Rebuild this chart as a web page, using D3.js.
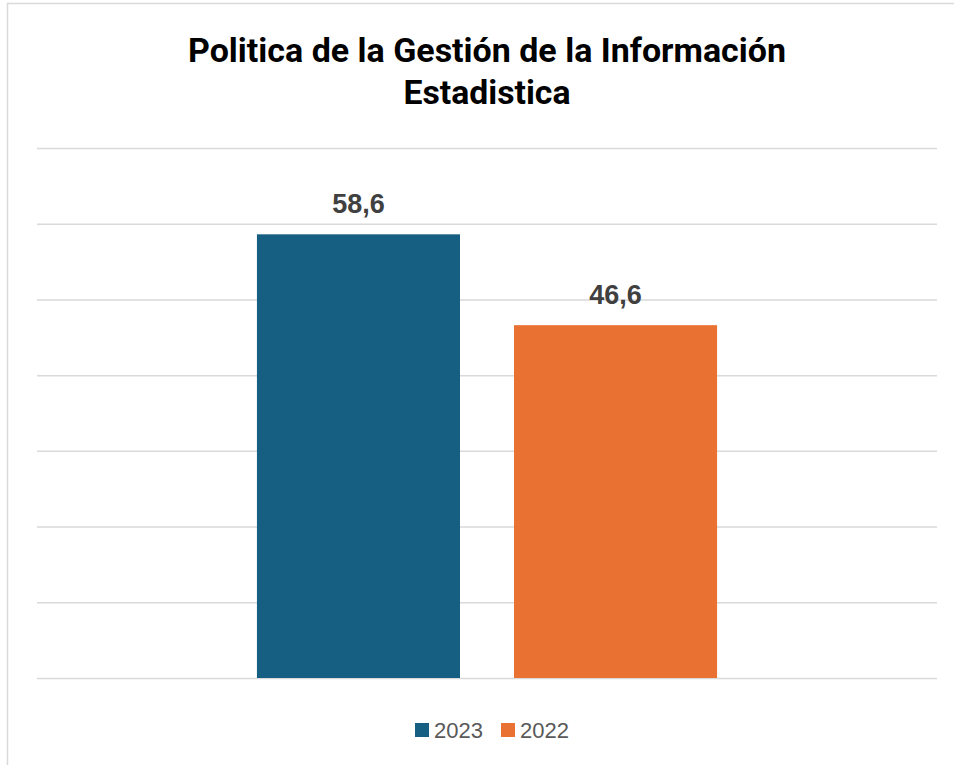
<!DOCTYPE html>
<html>
<head>
<meta charset="utf-8">
<script src="https://cdn.jsdelivr.net/npm/d3@7"></script>
<style>
  html, body { margin: 0; padding: 0; background: #fff; }
  svg { display: block; }
</style>
</head>
<body>
<svg id="chart" width="954" height="765"></svg>
<script>
// ---- Data ----
const titleLines = ["Politica de la Gestión de la Información", "Estadistica"];
const categories = [""];
const seriesNames = ["2023", "2022"];
const seriesValues = [58.6, 46.6];
const seriesColors = ["#175f82", "#e97132"];
const yTicks = [0, 10, 20, 30, 40, 50, 60, 70];
const fmt = v => d3.format(".1f")(v).replace(".", ",");

const svg = d3.select("#chart");
const W = 954, H = 765;
const margin = { left: 37, right: 17, top: 148, bottom: 87 };
const innerBottom = H - margin.bottom; // 678

// outer chart border (partially cropped)
svg.append("rect")
  .attr("x", 7.5).attr("y", 3.5)
  .attr("width", W + 20).attr("height", H + 20)
  .attr("fill", "none").attr("stroke", "#d9d9d9").attr("stroke-width", 1.5);

// title
const titleWidths = [598, 167];
titleLines.forEach((t, i) => {
  svg.append("text")
    .attr("x", 487).attr("y", 62 + i * 42)
    .attr("text-anchor", "middle")
    .attr("font-family", "Roboto, 'Liberation Sans', sans-serif")
    .attr("font-weight", "bold")
    .attr("font-size", 34)
    .attr("fill", "#000")
    .attr("textLength", titleWidths[i])
    .attr("lengthAdjust", "spacingAndGlyphs")
    .text(t);
});

// scales
const y = d3.scaleLinear().domain([0, 70]).range([innerBottom, margin.top]);
const x0 = d3.scaleBand().domain(categories).range([margin.left, W - margin.right]).paddingInner(0).paddingOuter(0.478);
const x1 = d3.scaleBand().domain(seriesNames).range([0, x0.bandwidth()]).paddingInner(0.21).paddingOuter(0);

// gridlines via axis
const grid = d3.axisLeft(y).tickValues(yTicks).tickSize(-(W - margin.left - margin.right)).tickFormat("");
const g = svg.append("g").attr("transform", `translate(${margin.left},0)`).call(grid);
g.select(".domain").remove();
g.selectAll(".tick line").attr("stroke", "#d9d9d9").attr("stroke-width", 1.5);

// bars
const grp = svg.append("g").attr("transform", `translate(${x0(categories[0])},0)`);
grp.selectAll("rect.bar")
  .data(seriesNames.map((s, i) => ({ s, v: seriesValues[i], c: seriesColors[i] })))
  .join("rect")
  .attr("class", "bar")
  .attr("x", d => x1(d.s))
  .attr("y", d => y(d.v))
  .attr("width", x1.bandwidth())
  .attr("height", d => y(0) - y(d.v))
  .attr("fill", d => d.c);

// data labels
grp.selectAll("text.lbl")
  .data(seriesNames.map((s, i) => ({ s, v: seriesValues[i] })))
  .join("text")
  .attr("class", "lbl")
  .attr("x", d => x1(d.s) + x1.bandwidth() / 2)
  .attr("y", d => y(d.v) - 21)
  .attr("text-anchor", "middle")
  .attr("font-family", "'Liberation Sans', Arial, sans-serif")
  .attr("font-weight", "bold")
  .attr("font-size", 27)
  .attr("fill", "#404040")
  .text(d => fmt(d.v));

// legend
const legend = svg.append("g");
const legX = [415, 501];
seriesNames.forEach((s, i) => {
  const lg = legend.append("g").attr("transform", `translate(${legX[i]},723)`);
  lg.append("rect").attr("width", 14).attr("height", 14).attr("fill", seriesColors[i]);
  lg.append("text").attr("x", 19).attr("y", 15)
    .attr("font-family", "'Liberation Sans', Arial, sans-serif")
    .attr("font-size", 22).attr("fill", "#595959").text(s);
});
</script>
</body>
</html>
